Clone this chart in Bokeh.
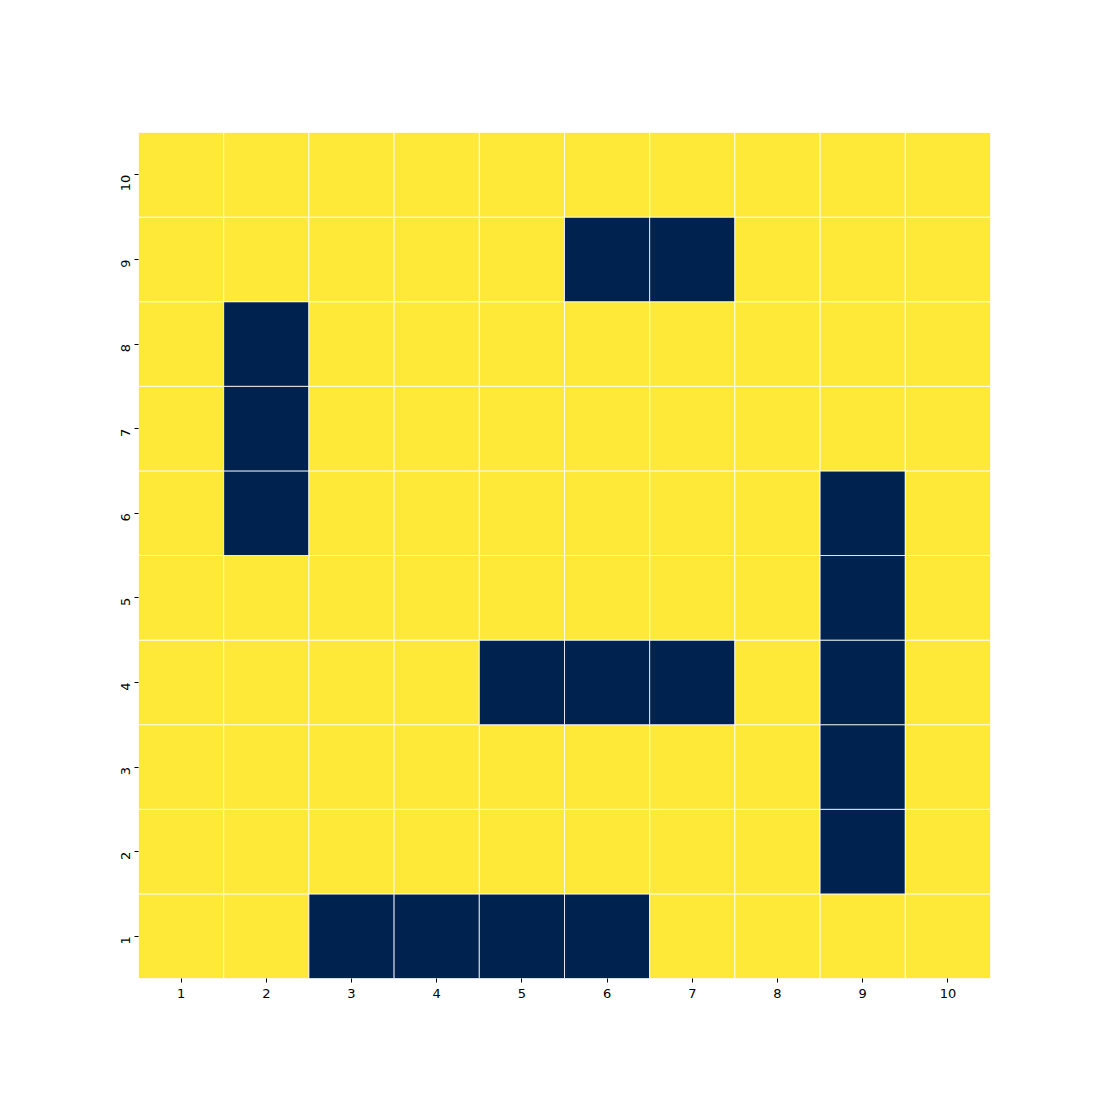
import math
from bokeh.plotting import figure
from bokeh.models import ColumnDataSource, FixedTicker, Range1d
from bokeh.embed import file_html
from bokeh.resources import INLINE

# grid values, row index 1 (bottom) .. 10 (top); 1 = dark cell
rows = [1, 2, 3, 4, 5, 6, 7, 8, 9, 10]
cols = [1, 2, 3, 4, 5, 6, 7, 8, 9, 10]
grid = {
    1:  [0, 0, 1, 1, 1, 1, 0, 0, 0, 0],
    2:  [0, 0, 0, 0, 0, 0, 0, 0, 1, 0],
    3:  [0, 0, 0, 0, 0, 0, 0, 0, 1, 0],
    4:  [0, 0, 0, 0, 1, 1, 1, 0, 1, 0],
    5:  [0, 0, 0, 0, 0, 0, 0, 0, 1, 0],
    6:  [0, 1, 0, 0, 0, 0, 0, 0, 1, 0],
    7:  [0, 1, 0, 0, 0, 0, 0, 0, 0, 0],
    8:  [0, 1, 0, 0, 0, 0, 0, 0, 0, 0],
    9:  [0, 0, 0, 0, 0, 1, 1, 0, 0, 0],
    10: [0, 0, 0, 0, 0, 0, 0, 0, 0, 0],
}
palette = {0: "#fee838", 1: "#00224e"}

xs, ys, colors = [], [], []
for r in rows:
    for c, v in zip(cols, grid[r]):
        xs.append(c)
        ys.append(r)
        colors.append(palette[v])
src = ColumnDataSource(dict(x=xs, y=ys, color=colors))

p = figure(width=1100, height=1100, output_backend="svg", toolbar_location=None,
           x_range=Range1d(0.5, 10.5), y_range=Range1d(0.5, 10.5),
           min_border_left=138, min_border_right=110, min_border_top=132,
           min_border_bottom=122)
p.rect(x="x", y="y", width=1, height=1, source=src, fill_color="color",
       line_color="white", line_width=0.8)

p.outline_line_color = None
p.grid.visible = False
for ax in (p.xaxis, p.yaxis):
    ax.ticker = FixedTicker(ticks=cols)
    ax.axis_line_color = None
    ax.major_tick_in = 0
    ax.major_tick_out = 4
    ax.major_tick_line_color = "black"
    ax.minor_tick_line_color = None
    ax.major_label_text_font = "DejaVu Sans"
    ax.major_label_text_font_size = "13px"
    ax.major_label_text_color = "black"
p.xaxis.major_label_standoff = 6
p.yaxis.major_label_standoff = 9
p.yaxis.major_label_orientation = math.pi / 2

open("out.html", "w").write(file_html(p, INLINE))
